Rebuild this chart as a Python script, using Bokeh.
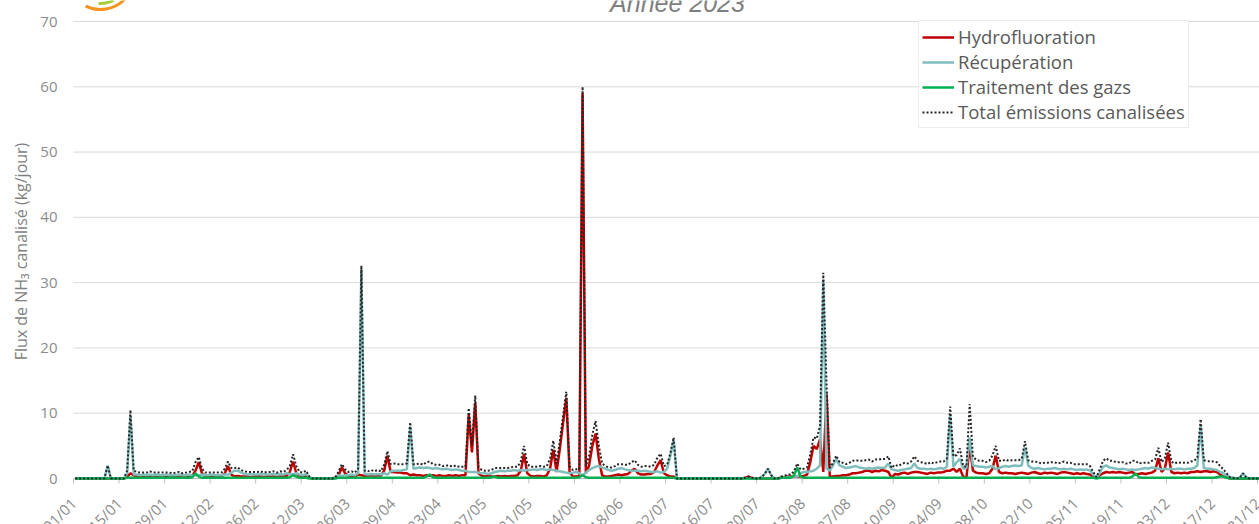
import numpy as np
from bokeh.plotting import figure
from bokeh.models import (Range1d, Legend, LegendItem, Label, ColumnDataSource)
from bokeh.embed import file_html
from bokeh.resources import INLINE

# ---------------- data (daily values, 01/01/2023 -> 31/12/2023) ----------------
tick_days = [0, 14, 28, 42, 56, 70, 84, 98, 112, 126, 140, 154, 168, 182, 196,
             210, 224, 238, 252, 266, 280, 294, 308, 322, 336, 350, 364]
tick_labels = ["01/01", "15/01", "29/01", "12/02", "26/02", "12/03", "26/03", "09/04",
               "23/04", "07/05", "21/05", "04/06", "18/06", "02/07", "16/07", "30/07",
               "13/08", "27/08", "10/09", "24/09", "08/10", "22/10", "05/11", "19/11",
               "03/12", "17/12", "31/12"]
y_ticks = [0, 10, 20, 30, 40, 50, 60, 70]

hydrofluoration = [
    0, 0, 0, 0, 0, 0, 0, 0, 0, 0,
    0, 0, 0, 0, 0, 0, 0.3, 0.8, 0.5, 0.3,
    0.3, 0.2, 0.3, 0.4, 0.3, 0.2, 0.3, 0.3, 0.2, 0.3,
    0.2, 0.3, 0.3, 0.2, 0.3, 0.3, 0.4, 1.2, 2.5, 0.8,
    0.3, 0.3, 0.2, 0.3, 0.3, 0.3, 0.8, 1.9, 0.6, 0.3,
    0.4, 0.3, 0.3, 0.3, 0.2, 0.3, 0.3, 0.3, 0.2, 0.3,
    0.3, 0.3, 0.2, 0.3, 0.3, 0.4, 1.0, 2.6, 0.8, 0.3,
    0.3, 0.4, 0.1, 0, 0, 0, 0, 0, 0, 0,
    0.1, 0.5, 1.7, 0.8, 0.4, 0.4, 0.3, 0.6, 0.5, 0.4,
    0.4, 0.5, 0.4, 0.5, 0.4, 1.2, 3.5, 1.0, 1.0, 0.9,
    0.9, 0.8, 0.8, 0.5, 0.6, 0.5, 0.5, 0.4, 0.5, 0.4,
    0.5, 0.4, 0.5, 0.4, 0.4, 0.5, 0.4, 0.5, 0.4, 0.5,
    0.5, 9.7, 4.0, 11.6, 0.8, 0.4, 0.3, 0.4, 0.3, 0.3,
    0.4, 0.3, 0.4, 0.3, 0.4, 0.4, 0.5, 1.2, 3.7, 0.8,
    0.4, 0.3, 0.4, 0.4, 0.3, 0.5, 1.5, 4.4, 1.0, 4.5,
    8.5, 12.3, 1.0, 0.3, 0.3, 0.4, 59.0, 0.8, 2.0, 5.0,
    6.9, 3.0, 0.5, 0.3, 0.3, 0.4, 0.5, 0.6, 0.5, 0.6,
    0.7, 1.2, 1.5, 0.8, 0.6, 0.6, 0.7, 0.7, 1.0, 2.0,
    2.8, 0.8, 0.5, 0.3, 0.3, 0, 0, 0, 0, 0,
    0, 0, 0, 0, 0, 0, 0, 0, 0, 0,
    0, 0, 0, 0, 0, 0, 0.1, 0.3, 0.1, 0,
    0, 0, 0, 0, 0, 0, 0, 0.1, 0.2, 0.3,
    0.3, 0.3, 0.3, 0.3, 0.4, 0.6, 2.5, 5.0, 4.5, 6.0,
    1.0, 13.0, 0.3, 0.3, 0.4, 0.4, 0.5, 0.5, 0.6, 0.8,
    0.8, 0.9, 1.0, 1.2, 1.2, 1.0, 1.2, 1.1, 1.3, 1.2,
    1.0, 0.1, 0.7, 0.6, 0.8, 0.9, 0.7, 0.9, 1.0, 1.0,
    0.9, 0.8, 0.7, 0.9, 0.8, 0.9, 0.9, 1.0, 1.2, 1.2,
    1.5, 1.0, 1.5, 0.3, 0.1, 5.0, 1.2, 0.9, 0.8, 0.8,
    0.7, 0.8, 1.5, 3.5, 1.0, 0.8, 0.9, 0.8, 0.8, 0.7,
    0.8, 0.9, 0.8, 0.7, 0.9, 1.0, 0.8, 0.7, 0.9, 0.8,
    0.9, 0.8, 0.7, 0.9, 1.0, 0.9, 0.8, 0.7, 0.8, 0.7,
    0.8, 0.7, 0.6, 0.3, 0.1, 0.5, 0.8, 1.0, 0.9, 1.0,
    0.9, 1.0, 0.9, 0.8, 0.9, 1.0, 0.6, 0.7, 0.8, 0.7,
    0.8, 0.9, 1.2, 3.1, 1.0, 1.5, 4.0, 1.0, 0.8, 0.9,
    0.8, 0.9, 0.8, 1.0, 1.0, 1.1, 1.0, 1.1, 1.1, 1.0,
    1.1, 1.0, 0.6, 0.3, 0.2, 0, 0, 0, 0, 0,
    0, 0, 0, 0, 0,
]

recuperation = [
    0, 0, 0, 0, 0, 0, 0, 0, 0, 0,
    2.0, 0, 0, 0, 0, 0, 0.8, 9.6, 0.6, 0.6,
    0.5, 0.6, 0.5, 0.6, 0.5, 0.6, 0.5, 0.5, 0.6, 0.5,
    0.5, 0.5, 0.6, 0.5, 0.5, 0.6, 0.5, 0.5, 0.5, 0.6,
    0.5, 0.5, 0.6, 0.5, 0.5, 0.5, 0.6, 0.6, 0.9, 1.2,
    1.2, 0.9, 0.7, 0.6, 0.7, 0.6, 0.6, 0.7, 0.6, 0.6,
    0.6, 0.7, 0.6, 0.7, 0.6, 0.8, 0.7, 0.6, 0.8, 0.6,
    0.5, 0.7, 0.2, 0, 0, 0, 0, 0, 0, 0,
    0.1, 0.5, 0.4, 0.5, 0.5, 0.6, 0.5, 0.8, 32.0, 0.7,
    0.6, 0.7, 0.6, 0.7, 0.6, 0.8, 0.6, 1.1, 1.2, 1.2,
    1.2, 1.3, 1.4, 8.0, 1.5, 1.6, 1.7, 1.6, 1.7, 1.6,
    1.5, 1.6, 1.5, 1.4, 1.5, 1.4, 1.3, 1.4, 1.3, 1.2,
    1.2, 1.0, 1.0, 1.0, 0.9, 0.8, 0.8, 0.7, 0.8, 1.0,
    1.1, 1.2, 1.1, 1.2, 1.2, 1.3, 1.2, 1.3, 1.2, 1.3,
    1.3, 1.4, 1.3, 1.4, 1.4, 1.3, 1.4, 1.3, 1.2, 1.1,
    1.0, 0.9, 0.8, 0.9, 1.0, 0.8, 0.5, 0.9, 1.3, 1.6,
    1.8, 1.9, 1.7, 1.5, 1.3, 1.2, 1.3, 1.5, 1.6, 1.4,
    1.3, 1.2, 1.2, 1.2, 1.1, 1.2, 1.1, 1.0, 1.0, 1.1,
    0.9, 1.0, 1.5, 3.5, 5.9, 0, 0, 0, 0, 0,
    0, 0, 0, 0, 0, 0, 0, 0, 0, 0,
    0, 0, 0, 0, 0, 0, 0, 0, 0, 0,
    0, 0.2, 0.7, 1.5, 0.5, 0, 0, 0.1, 0.1, 0.2,
    0.2, 0.3, 0.3, 0.8, 1.0, 1.0, 1.1, 1.2, 1.5, 2.0,
    30.4, 1.5, 1.2, 2.0, 3.0, 2.0, 1.8, 1.6, 1.7, 1.8,
    1.9, 1.7, 1.6, 1.5, 1.6, 1.5, 1.6, 1.7, 1.6, 1.7,
    2.3, 1.4, 1.3, 1.2, 1.3, 1.4, 1.5, 1.6, 2.3, 1.6,
    1.5, 1.5, 1.4, 1.5, 1.4, 1.5, 1.6, 1.5, 1.8, 9.7,
    1.8, 2.5, 3.0, 1.5, 1.6, 6.3, 2.0, 1.9, 1.8, 1.8,
    1.7, 1.8, 1.9, 1.4, 1.6, 1.8, 1.9, 1.8, 1.9, 2.0,
    1.9, 2.0, 4.8, 2.0, 1.6, 1.5, 1.6, 1.5, 1.4, 1.5,
    1.5, 1.6, 1.5, 1.4, 1.5, 1.4, 1.5, 1.4, 1.3, 1.4,
    1.3, 1.4, 1.2, 0.6, 0.1, 0.8, 1.8, 2.0, 1.7, 1.6,
    1.5, 1.4, 1.5, 1.4, 1.3, 1.4, 1.3, 1.4, 1.5, 1.6,
    1.5, 1.7, 1.6, 1.5, 1.4, 1.5, 1.4, 1.5, 1.4, 1.5,
    1.5, 1.4, 1.5, 1.5, 1.6, 2.0, 8.0, 1.6, 1.5, 1.5,
    1.4, 1.3, 1.0, 0.8, 0.5, 0.2, 0.1, 0, 0.1, 0.8,
    0.2, 0, 0, 0, 0,
]

traitement_gaz = [
    0, 0, 0, 0, 0, 0, 0, 0, 0, 0,
    0, 0, 0, 0, 0, 0, 0.1, 0.1, 0.1, 0.1,
    0.1, 0.1, 0.1, 0.1, 0.1, 0.1, 0.1, 0.1, 0.1, 0.1,
    0.1, 0.1, 0.1, 0.1, 0.1, 0.1, 0.2, 0.8, 0.3, 0.1,
    0.1, 0.1, 0.1, 0.1, 0.1, 0.1, 0.1, 0.1, 0.1, 0.1,
    0.1, 0.1, 0.1, 0.1, 0.1, 0.1, 0.1, 0.1, 0.1, 0.1,
    0.1, 0.1, 0.1, 0.1, 0.1, 0.1, 0.2, 0.5, 0.3, 0.1,
    0.1, 0.1, 0, 0, 0, 0, 0, 0, 0, 0,
    0, 0.1, 0.1, 0.1, 0.1, 0.1, 0.1, 0.1, 0.1, 0.1,
    0.1, 0.1, 0.1, 0.1, 0.1, 0.1, 0.1, 0.1, 0.1, 0.1,
    0.1, 0.1, 0.1, 0.1, 0.1, 0.1, 0.1, 0.1, 0.3, 0.6,
    0.2, 0.1, 0.1, 0.1, 0.1, 0.1, 0.1, 0.1, 0.1, 0.1,
    0.1, 0.1, 0.1, 0.1, 0.1, 0.1, 0.1, 0.1, 0.2, 0.3,
    0.1, 0.1, 0.1, 0.1, 0.1, 0.1, 0.1, 0.1, 0.1, 0.1,
    0.1, 0.1, 0.1, 0.1, 0.1, 0.1, 0.1, 0.1, 0.1, 0.1,
    0.1, 0.1, 0.1, 0.1, 0.1, 0.2, 0.5, 0.2, 0.1, 0.1,
    0.1, 0.1, 0.1, 0.1, 0.1, 0.1, 0.1, 0.1, 0.1, 0.1,
    0.1, 0.1, 0.1, 0.1, 0.1, 0.1, 0.1, 0.1, 0.1, 0.1,
    0.1, 0.1, 0.1, 0.1, 0.1, 0, 0, 0, 0, 0,
    0, 0, 0, 0, 0, 0, 0, 0, 0, 0,
    0, 0, 0, 0, 0, 0, 0, 0, 0, 0,
    0, 0, 0, 0, 0, 0, 0, 0.1, 0.1, 0.1,
    0.1, 0.5, 1.7, 0.3, 0.1, 0.1, 0.1, 0.1, 0.1, 0.1,
    0.1, 0.1, 0.1, 0.1, 0.1, 0.1, 0.1, 0.1, 0.1, 0.1,
    0.1, 0.1, 0.1, 0.1, 0.1, 0.1, 0.1, 0.1, 0.1, 0.1,
    0.1, 0.1, 0.1, 0.1, 0.1, 0.1, 0.1, 0.1, 0.1, 0.1,
    0.1, 0.1, 0.1, 0.1, 0.1, 0.1, 0.1, 0.1, 0.1, 0.1,
    0.1, 0.1, 0.1, 0.1, 0.1, 0.1, 0.1, 0.1, 0.1, 0.1,
    0.1, 0.1, 0.1, 0.1, 0.1, 0.1, 0.1, 0.1, 0.1, 0.1,
    0.1, 0.1, 0.1, 0.1, 0.1, 0.1, 0.1, 0.1, 0.1, 0.1,
    0.1, 0.1, 0.1, 0.1, 0.1, 0.1, 0.1, 0.1, 0.1, 0.1,
    0.1, 0.1, 0.1, 0.1, 0, 0.1, 0.1, 0.1, 0.1, 0.1,
    0.1, 0.1, 0.1, 0.1, 0.1, 0.3, 0.8, 0.2, 0.1, 0.1,
    0.1, 0.1, 0.1, 0.1, 0.1, 0.1, 0.1, 0.1, 0.1, 0.1,
    0.1, 0.1, 0.1, 0.1, 0.1, 0.1, 0.1, 0.1, 0.1, 0.1,
    0.1, 0.2, 0.3, 0.3, 0.1, 0, 0, 0, 0, 0,
    0, 0, 0, 0, 0,
]

total_emissions = [
    0, 0, 0, 0, 0, 0, 0, 0, 0, 0,
    2.0, 0, 0, 0, 0, 0, 1.2, 10.5, 1.2, 1.0,
    0.9, 0.9, 0.9, 1.1, 0.9, 0.9, 0.9, 0.9, 0.9, 0.9,
    0.8, 0.9, 1.0, 0.8, 0.9, 1.0, 1.1, 2.5, 3.3, 1.5,
    0.9, 0.9, 0.9, 0.9, 0.9, 0.9, 1.5, 2.6, 1.6, 1.6,
    1.7, 1.3, 1.1, 1.0, 1.0, 1.0, 1.0, 1.1, 0.9, 1.0,
    1.0, 1.1, 0.9, 1.1, 1.0, 1.3, 1.9, 3.7, 1.9, 1.0,
    0.9, 1.2, 0.3, 0, 0, 0, 0, 0, 0, 0,
    0.2, 1.1, 2.2, 1.4, 1.0, 1.1, 0.9, 1.5, 32.6, 1.2,
    1.1, 1.3, 1.1, 1.3, 1.1, 2.1, 4.2, 2.2, 2.3, 2.2,
    2.2, 2.2, 2.3, 8.6, 2.2, 2.2, 2.3, 2.1, 2.5, 2.6,
    2.2, 2.1, 2.1, 1.9, 2.0, 2.0, 1.8, 2.0, 1.8, 1.8,
    1.8, 10.8, 5.1, 12.7, 1.8, 1.3, 1.2, 1.2, 1.3, 1.6,
    1.6, 1.6, 1.6, 1.6, 1.7, 1.8, 1.8, 2.6, 5.0, 2.2,
    1.8, 1.8, 1.8, 1.9, 1.8, 1.9, 3.0, 5.8, 2.3, 5.7,
    9.6, 13.3, 1.9, 1.3, 1.4, 1.4, 60.0, 1.9, 3.4, 6.7,
    8.8, 5.0, 2.3, 1.9, 1.7, 1.7, 1.9, 2.2, 2.2, 2.1,
    2.1, 2.5, 2.8, 2.1, 1.8, 1.9, 1.9, 1.8, 2.1, 3.2,
    3.8, 1.9, 2.1, 3.9, 6.3, 0, 0, 0, 0, 0,
    0, 0, 0, 0, 0, 0, 0, 0, 0, 0,
    0, 0, 0, 0, 0, 0, 0.1, 0.3, 0.1, 0,
    0, 0.2, 0.7, 1.5, 0.5, 0, 0, 0.3, 0.4, 0.6,
    0.6, 1.1, 2.3, 1.4, 1.5, 1.7, 3.7, 6.3, 6.1, 8.1,
    31.5, 14.6, 1.6, 2.4, 3.5, 2.5, 2.4, 2.2, 2.4, 2.7,
    2.8, 2.7, 2.7, 2.8, 2.9, 2.6, 2.9, 2.9, 3.0, 3.0,
    3.4, 1.6, 2.1, 1.9, 2.2, 2.4, 2.3, 2.6, 3.4, 2.7,
    2.5, 2.4, 2.2, 2.5, 2.3, 2.5, 2.6, 2.6, 3.1, 11.0,
    3.4, 3.6, 4.6, 1.9, 1.8, 11.4, 3.3, 2.9, 2.7, 2.7,
    2.5, 2.7, 3.5, 5.0, 2.7, 2.7, 2.9, 2.7, 2.8, 2.8,
    2.8, 3.0, 5.7, 2.8, 2.6, 2.6, 2.5, 2.3, 2.4, 2.4,
    2.5, 2.5, 2.3, 2.4, 2.6, 2.4, 2.4, 2.2, 2.2, 2.2,
    2.2, 2.2, 1.9, 1.0, 0.2, 1.4, 2.7, 3.1, 2.7, 2.7,
    2.5, 2.5, 2.5, 2.3, 2.3, 2.7, 2.7, 2.3, 2.4, 2.4,
    2.4, 2.7, 2.9, 4.7, 2.5, 3.1, 5.5, 2.6, 2.3, 2.5,
    2.4, 2.4, 2.4, 2.6, 2.7, 3.2, 9.1, 2.8, 2.7, 2.6,
    2.6, 2.5, 1.9, 1.4, 0.8, 0.2, 0.1, 0, 0.1, 0.8,
    0.2, 0, 0, 0, 0,
]

# ---------------- layout constants (pixels) ----------------
FONT = "Open Sans"
GREY = "#8C8C8C"
W, H = 1259, 524
PLOT_LEFT = 73          # px of the 01/01 position from the canvas left
PLOT_TOP = 21           # px of the 70 gridline from the canvas top
AXIS_Y = 478            # px of the zero line from the canvas top
DAYS_SPAN = 364.6       # days shown between PLOT_LEFT and the right edge
px_per_unit = (AXIS_Y - PLOT_TOP) / (y_ticks[-1] - y_ticks[0])
px_per_day = (W - PLOT_LEFT) / DAYS_SPAN

# each day is plotted in the middle of its daily slot
day_x = np.arange(len(total_emissions)) + 0.5

src = ColumnDataSource(dict(x=day_x, h=hydrofluoration, r=recuperation,
                            g=traitement_gaz, t=total_emissions))

# The frame covers the whole canvas, so that every text (drawn as annotations,
# which are clipped to the frame) can sit where the reference shows it.
p = figure(width=W, height=H, output_backend="svg", toolbar_location=None,
           title=None, x_axis_location=None, y_axis_location=None,
           x_range=Range1d(-PLOT_LEFT / px_per_day, DAYS_SPAN),
           y_range=Range1d(-(H - AXIS_Y) / px_per_unit,
                           y_ticks[-1] + PLOT_TOP / px_per_unit),
           min_border_left=0, min_border_right=0, min_border_top=0,
           min_border_bottom=0)
p.outline_line_color = None
p.background_fill_color = "white"
p.border_fill_color = "white"
p.grid.visible = False

# horizontal gridlines over the plotting area only
p.segment(x0=0, x1=DAYS_SPAN, y0=y_ticks, y1=y_ticks, line_color="#D9D9D9",
          line_width=1, level="underlay")
# x axis line and tick marks
p.segment(x0=0, x1=DAYS_SPAN, y0=0, y1=0, line_color="#BFBFBF", line_width=1,
          level="underlay")
p.ray(x=tick_days, y=[0] * len(tick_days), length=5, length_units="screen",
      angle=-np.pi / 2, line_color="#BFBFBF", line_width=1)

# y tick labels
for t in y_ticks:
    p.add_layout(Label(x=PLOT_LEFT - 16, y=t, x_units="screen", y_units="data",
                       text=str(t), text_align="right", text_baseline="middle",
                       text_font=FONT, text_font_size="15px", text_color=GREY))

# y axis title
p.add_layout(Label(x=20, y=H - 251, x_units="screen", y_units="screen",
                   text="Flux de NH\u2083 canalisé (kg/jour)", angle=np.pi / 2,
                   text_align="center", text_baseline="middle", text_font=FONT,
                   text_font_size="16px", text_color="#7F7F7F"))

# series
r_h = p.line("x", "h", source=src, line_color="#C00000", line_width=2.5)
r_r = p.line("x", "r", source=src, line_color="#80BDBD", line_width=2.5)
r_g = p.line("x", "g", source=src, line_color="#00B050", line_width=2.5)
r_t = p.line("x", "t", source=src, line_color="#262626", line_width=2,
             line_dash="2 2")

# rotated date labels
for d, lab in zip(tick_days, tick_labels):
    p.add_layout(Label(x=d, y=0, text=lab, angle=np.pi / 4,
                       text_align="right", text_baseline="middle", y_offset=-22,
                       text_font=FONT, text_font_size="15px", text_color=GREY))

# chart title (partly cut by the top edge, as in the reference)
p.add_layout(Label(x=677, y=H - 2, x_units="screen", y_units="screen",
                   text="Année 2023", text_align="center", text_baseline="alphabetic",
                   text_font="Liberation Sans", text_font_style="italic",
                   text_font_size="25px", text_color="#7F7F7F"))

# partly visible logo swoosh in the top-left corner
logo_x = (100 - PLOT_LEFT) / px_per_day
logo_y = y_ticks[-1] + (PLOT_TOP + 25) / px_per_unit
p.arc(x=logo_x, y=logo_y, radius=34, radius_units="screen",
      start_angle=np.radians(244), end_angle=np.radians(315),
      line_color="#F7941D", line_width=3)
p.arc(x=logo_x, y=logo_y, radius=28, radius_units="screen",
      start_angle=np.radians(266), end_angle=np.radians(298),
      line_color="#A6CE39", line_width=3)

legend = Legend(items=[
    LegendItem(label="Hydrofluoration", renderers=[r_h]),
    LegendItem(label="Récupération", renderers=[r_r]),
    LegendItem(label="Traitement des gazs", renderers=[r_g]),
    LegendItem(label="Total émissions canalisées", renderers=[r_t]),
], location=(918, H - 128))
legend.label_text_font = FONT
legend.label_text_font_size = "18.5px"
legend.label_text_color = "#595959"
legend.glyph_width = 32
legend.glyph_height = 20
legend.label_height = 20
legend.label_standoff = 4
legend.spacing = 0
legend.padding = 3
legend.margin = 0
legend.border_line_color = "#D9D9D9"
legend.border_line_width = 1
legend.background_fill_color = "white"
legend.background_fill_alpha = 1
p.add_layout(legend)

open("out.html", "w").write(file_html(p, INLINE))
